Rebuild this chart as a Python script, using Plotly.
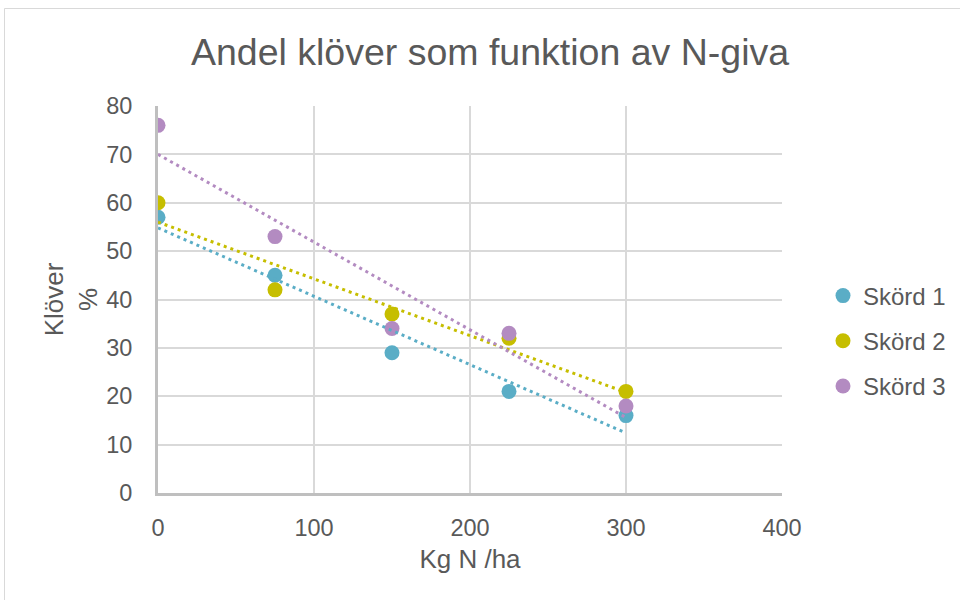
import numpy as np
import plotly.graph_objects as go

# ---- data ----
kg_n = [0, 75, 150, 225, 300]
skord1 = [57, 45, 29, 21, 16]
skord2 = [60, 42, 37, 32, 21]
skord3 = [76, 53, 34, 33, 18]
series_names = ["Skörd 1", "Skörd 2", "Skörd 3"]
series_values = [skord1, skord2, skord3]
colors = ["#5AADC6", "#C6BE00", "#B38BC1"]

title_text = "Andel klöver som funktion av N-giva"
x_title = "Kg N /ha"
y_title = "Klöver<br>%"
x_ticks = [0, 100, 200, 300, 400]
y_ticks = [0, 10, 20, 30, 40, 50, 60, 70, 80]

FONT = "Liberation Sans, Arial, sans-serif"
TXT = "#595959"

fig = go.Figure()

# markers
for i, (name, vals, col) in enumerate(zip(series_names, series_values, colors)):
    fig.add_trace(go.Scatter(
        x=kg_n, y=vals, mode="markers", name=name,
        marker=dict(size=15, color=col),
        legendgroup=f"g{i}",
    ))

# linear trendlines (least squares fit of each series)
for i, (name, vals, col) in enumerate(zip(series_names, series_values, colors)):
    slope, intercept = np.polyfit(kg_n, vals, 1)
    xs = [min(kg_n), max(kg_n)]
    ys = [intercept + slope * v for v in xs]
    fig.add_trace(go.Scatter(
        x=xs, y=ys, mode="lines", showlegend=False, hoverinfo="skip",
        line=dict(color=col, width=3, dash="3px,4px"),
        legendgroup=f"g{i}",
    ))

L, R, T, B = 158, 178, 106, 107
PW = 960 - L - R
PH = 600 - T - B

def px_x(p):
    return (p - L) / PW

def px_y(p):
    return (600 - B - p) / PH

fig.update_layout(
    width=960, height=600,
    margin=dict(l=L, r=R, t=T, b=B, autoexpand=False),
    paper_bgcolor="white", plot_bgcolor="white",
    font=dict(family=FONT, color=TXT, size=23),
    title=dict(text=title_text, x=490 / 960, xanchor="center",
               y=1 - 52 / 600, yanchor="middle", yref="container",
               font=dict(size=37.5, color=TXT, family=FONT)),
    showlegend=True,
    legend=dict(x=px_x(823), xanchor="left", y=px_y(341), yanchor="middle",
                font=dict(size=24, color=TXT, family=FONT),
                tracegroupgap=11, bgcolor="rgba(0,0,0,0)"),
    xaxis=dict(range=[0, 400], tickvals=x_ticks, showgrid=True,
               gridcolor="#D9D9D9", gridwidth=2, zeroline=False,
               showline=True, linecolor="#BFBFBF", linewidth=3,
               ticks="", ticklabelstandoff=12,
               tickfont=dict(size=23.5, color=TXT),
               title=dict(text=x_title, font=dict(size=26, color=TXT), standoff=10)),
    yaxis=dict(range=[0, 80], tickvals=y_ticks, showgrid=True,
               gridcolor="#D9D9D9", gridwidth=2, zeroline=False,
               showline=True, linecolor="#BFBFBF", linewidth=3,
               ticks="", ticklabelstandoff=18,
               tickfont=dict(size=23.5, color=TXT),
               title=dict(text=y_title, font=dict(size=26, color=TXT), standoff=2)),
    shapes=[dict(type="rect", xref="paper", yref="paper",
                 x0=px_x(4.5), x1=px_x(990), y0=px_y(8.5), y1=px_y(640),
                 line=dict(color="#D9D9D9", width=1), layer="below")],
)

fig.write_html("out.html")
